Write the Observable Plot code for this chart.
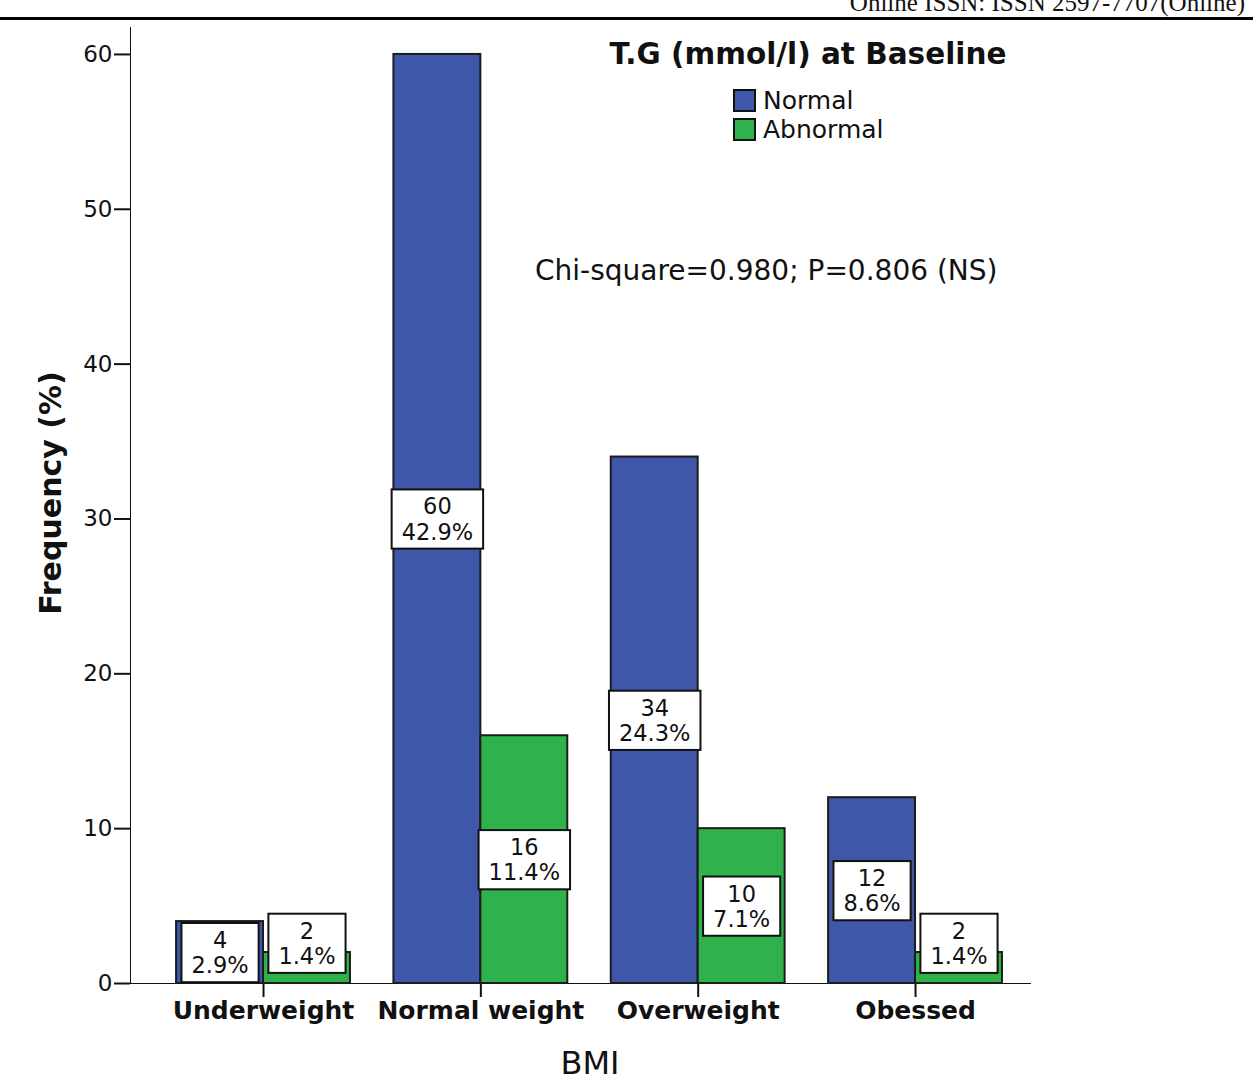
<!DOCTYPE html>
<html>
<head>
<meta charset="utf-8">
<script src="https://cdn.jsdelivr.net/npm/d3@7"></script>
<script src="https://cdn.jsdelivr.net/npm/@observablehq/plot@0.6"></script>
<style>
  html, body { margin: 0; padding: 0; background: #fff; }
  #wrap { position: relative; width: 1253px; height: 1081px; overflow: hidden; font-family: "DejaVu Sans", sans-serif; color: #111; }
  #wrap svg { position: absolute; left: 0; top: 0; }
  .ov { position: absolute; white-space: nowrap; z-index: 2; }
  #header { right: 8px; top: -11px; font-family: "Liberation Serif", serif; font-size: 25px; }
  #rule { left: 0; top: 17px; width: 1253px; height: 3px; background: #000; }
  #title { left: 808px; top: 54px; transform: translate(-50%, -50%); font-size: 29.5px; font-weight: bold; }
  .leg { position: absolute; left: 733px; display: flex; align-items: center; font-size: 25px; z-index: 2; }
  .leg span.sw { width: 19px; height: 19px; border: 2px solid #111; margin-right: 7px; display: inline-block; }
  #chi { left: 535px; top: 270px; transform: translateY(-50%); font-size: 28px; }
  #ylab { left: 50px; top: 493px; transform: translate(-50%, -50%) rotate(-90deg); font-size: 30px; font-weight: bold; }
  #xlab { left: 590px; top: 1063px; transform: translate(-50%, -50%); font-size: 32px; }
</style>
</head>
<body>
<div id="wrap">
  <div id="header" class="ov">Online ISSN: ISSN 2597-7707(Online)</div>
  <div id="rule" class="ov"></div>
  <div id="title" class="ov">T.G (mmol/l) at Baseline</div>
  <div id="legend"></div>
  <div id="chi" class="ov">Chi-square=0.980; P=0.806 (NS)</div>
  <div id="ylab" class="ov">Frequency (%)</div>
  <div id="xlab" class="ov">BMI</div>
</div>
<script>
// ---- data ----
const categories = ["Underweight", "Normal weight", "Overweight", "Obessed"];
const groups = ["Normal", "Abnormal"];
const groupColors = ["#3e57a8", "#2fb24b"];
const normalCounts = [4, 60, 34, 12];
const abnormalCounts = [2, 16, 10, 2];
const normalPercents = ["2.9%", "42.9%", "24.3%", "8.6%"];
const abnormalPercents = ["1.4%", "11.4%", "7.1%", "1.4%"];
const yTicks = [0, 10, 20, 30, 40, 50, 60];

// ---- layout params ----
const BAR = 0.4;             // width of one bar in category units
const Y_MAX = 61.74;
const X_DOMAIN = [-0.112, 4.029];
const LABEL_MIN = 2;         // lowest label centre (keeps the box above the axis)
const LABEL_MIN_SMALL = 2.6; // raised centre for labels of the smallest bars

const rows = categories.flatMap((c, i) => groups.map((g, j) => ({
  category: c, index: i, group: g, gi: j,
  value: j === 0 ? normalCounts[i] : abnormalCounts[i],
  pct: j === 0 ? normalPercents[i] : abnormalPercents[i]
})));

const x1 = d => d.index + 0.5 + (d.gi - 1) * BAR;
const x2 = d => x1(d) + BAR;
const labelY = d => d.value / 2 >= LABEL_MIN ? d.value / 2 : (d.gi === 1 ? LABEL_MIN_SMALL : LABEL_MIN);

const chart = Plot.plot({
  width: 1253,
  height: 1081,
  marginLeft: 130,
  marginRight: 223,
  marginTop: 27,
  marginBottom: 98,
  style: { fontFamily: "DejaVu Sans", fontSize: "23px", color: "#111", background: "transparent" },
  x: {
    domain: X_DOMAIN,
    ticks: categories.map((c, i) => i + 0.5),
    tickFormat: d => categories[Math.round(d - 0.5)],
    tickSize: 14, tickPadding: 4, line: true, label: null
  },
  y: {
    domain: [0, Y_MAX],
    ticks: yTicks,
    tickFormat: d => String(d),
    tickSize: 16, tickPadding: 2, line: true, label: null
  },
  color: { domain: groups, range: groupColors },
  marks: [
    Plot.rect(rows, { x1, x2, y1: 0, y2: "value", fill: "group", stroke: "#1c1c1c", strokeWidth: 2 }),
    Plot.text(rows, {
      x: d => (x1(d) + x2(d)) / 2,
      y: labelY,
      text: d => `${d.value}\n${d.pct}`,
      fontSize: 22.5, lineHeight: 1.12, fill: "#111"
    })
  ]
});

const wrap = document.getElementById("wrap");
wrap.insertBefore(chart, wrap.firstChild);

// legend built from the same group/color arrays
const legend = document.getElementById("legend");
groups.forEach((g, j) => {
  const div = document.createElement("div");
  div.className = "leg";
  div.style.top = (86 + j * 29) + "px";
  div.innerHTML = `<span class="sw" style="background:${groupColors[j]}"></span><span>${g}</span>`;
  legend.appendChild(div);
});

// style axes
const svg = d3.select(chart);
svg.selectAll('g[aria-label^="x-axis"], g[aria-label^="y-axis"]').attr("stroke-width", 2);
svg.selectAll("text").filter(function () { return categories.includes(this.textContent); })
  .style("font-weight", "bold").style("font-size", "25px");

// white boxes behind the bar labels
svg.selectAll('g[aria-label="text"] text').each(function () {
  const bb = this.getBBox();
  const padX = 10, padY = 4;
  const r = document.createElementNS("http://www.w3.org/2000/svg", "rect");
  r.setAttribute("x", bb.x - padX);
  r.setAttribute("y", bb.y - padY);
  r.setAttribute("width", bb.width + 2 * padX);
  r.setAttribute("height", bb.height + 2 * padY);
  r.setAttribute("fill", "#fff");
  r.setAttribute("stroke", "#111");
  r.setAttribute("stroke-width", 2);
  const t = this.getAttribute("transform");
  if (t) r.setAttribute("transform", t);
  this.parentNode.insertBefore(r, this);
});
</script>
</body>
</html>
